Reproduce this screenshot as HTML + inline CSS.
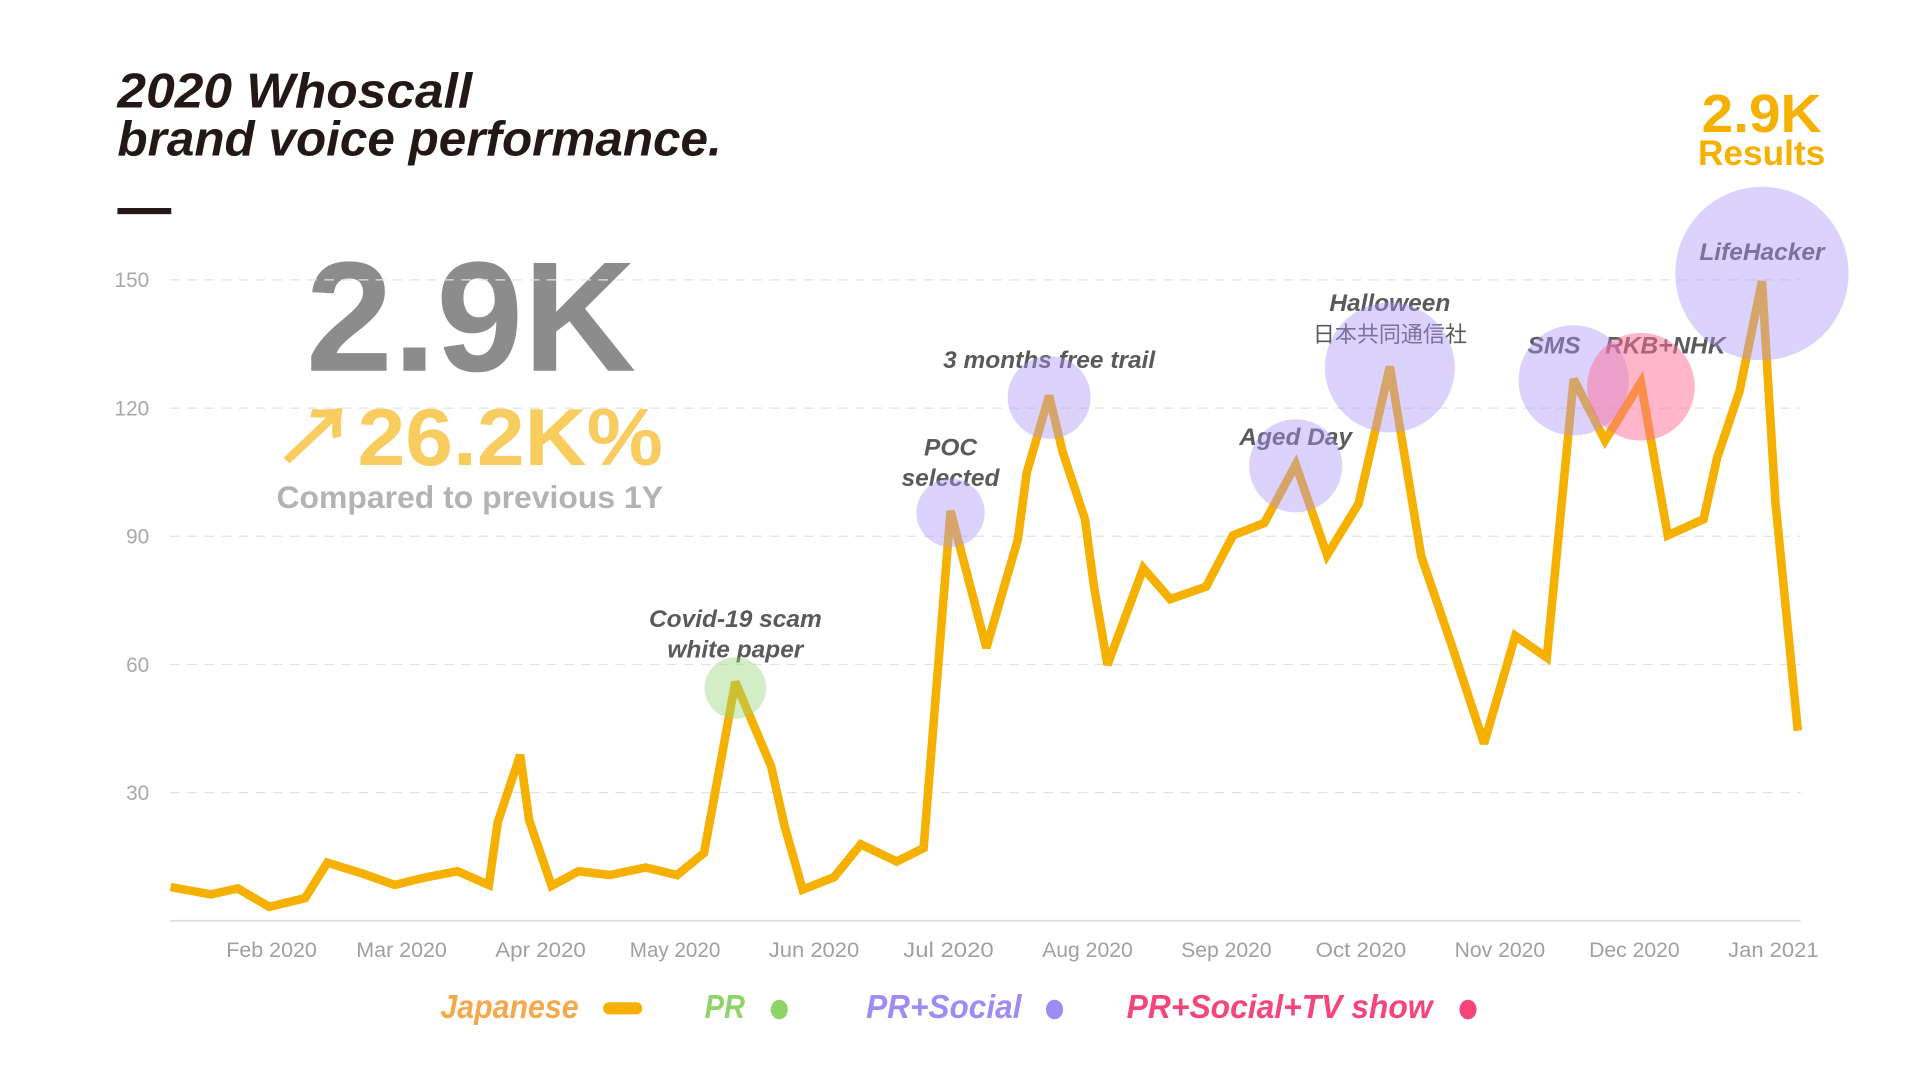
<!DOCTYPE html>
<html><head><meta charset="utf-8"><style>
html,body{margin:0;padding:0;background:#fff;}
svg{display:block;font-family:"Liberation Sans","Noto Sans CJK JP",sans-serif;}
</style></head><body>
<svg id="chart" width="1921" height="1081" viewBox="0 0 1570.3 883.4" preserveAspectRatio="none" xmlns="http://www.w3.org/2000/svg">
<g font-weight="bold" font-style="italic" fill="#231815" font-size="40">
<text x="96" y="88" textLength="290" lengthAdjust="spacingAndGlyphs">2020 Whoscall</text>
<text x="96" y="127" textLength="494" lengthAdjust="spacingAndGlyphs">brand voice performance.</text>
</g>
<rect x="96" y="170" width="44" height="5" fill="#231815"/>
<text x="250" y="303" font-size="128" font-weight="bold" fill="#8c8c8c" textLength="270" lengthAdjust="spacingAndGlyphs">2.9K</text>
<text x="222" y="380" font-size="66" font-weight="bold" fill="#f8cc5e" textLength="320" lengthAdjust="spacingAndGlyphs">↗26.2K%</text>
<text x="226" y="415" font-size="26" font-weight="bold" fill="#b3b3b3" textLength="316" lengthAdjust="spacingAndGlyphs">Compared to previous 1Y</text>
<text x="1440" y="108" text-anchor="middle" font-size="44" font-weight="bold" fill="#f5b000" textLength="98" lengthAdjust="spacingAndGlyphs">2.9K</text>
<text x="1440" y="135" text-anchor="middle" font-size="29" font-weight="bold" fill="#f5b000" textLength="104" lengthAdjust="spacingAndGlyphs">Results</text>
<g id="grid"></g><g id="axes"></g><g id="line"></g><g id="notes"></g><g id="bubbles"></g>
<g font-weight="bold" font-style="italic" font-size="27">
<text x="360" y="832" fill="#f5a94a" textLength="113" lengthAdjust="spacingAndGlyphs">Japanese</text>
<rect x="493" y="819" width="32" height="10" rx="5" fill="#f5b000"/>
<text x="576" y="832" fill="#8fd468" textLength="33" lengthAdjust="spacingAndGlyphs">PR</text>
<ellipse cx="637" cy="825" rx="7" ry="8" fill="#8fd468"/>
<text x="708" y="832" fill="#9e8cf5" textLength="127" lengthAdjust="spacingAndGlyphs">PR+Social</text>
<ellipse cx="862" cy="825" rx="7" ry="8" fill="#9e8cf5"/>
<text x="921" y="832" fill="#f5457a" textLength="250" lengthAdjust="spacingAndGlyphs">PR+Social+TV show</text>
<ellipse cx="1200" cy="825" rx="7" ry="8" fill="#f5457a"/>
</g>
</svg>
<script>
const days = [9,18,24,31,39,44,52,59,66,73,80,82,87,89,94,100,107,115,122,128,135,143,146,150,157,163,171,177,183,191,198,200,205,208,213,215,218,226,232,240,246,253,260,267,274,281,288,295,302,309,316,322,329,337,343,351,354,359,364,367,372];
const values = [7.9,6.2,7.6,3.3,5.3,13.6,11.0,8.4,10.2,11.6,8.4,23.1,38.8,23.6,8.2,11.6,10.7,12.5,10.7,15.9,55.9,36.1,22.1,7.3,10.2,17.9,13.9,17.0,95.9,63.9,89.2,104.9,122.9,109.8,94.0,78.2,59.9,82.5,75.3,78.2,90.2,93.1,106.8,85.6,97.6,129.7,85.3,63.9,41.5,66.7,61.6,126.8,112.4,126.0,90.2,94.0,108.3,124.0,149.7,98.0,44.5];
const yTicks = [30,60,90,120,150];
const monthLabels = ["Feb 2020","Mar 2020","Apr 2020","May 2020","Jun 2020","Jul 2020","Aug 2020","Sep 2020","Oct 2020","Nov 2020","Dec 2020","Jan 2021"];
const monthDays = [31,60,91,121,152,182,213,244,274,305,335,366];
const noteDays = [135,183,205,260,281,322,337,364];
const noteVals = [54.5,95.5,122.5,106.5,129.5,126.5,125,151.5];
const noteR = [7.2,8,9.7,10.9,15.2,12.9,12.6,20.3];
const noteTypes = ["pr","social","social","social","social","social","tv","social"];
const noteLabels = [["Covid-19 scam","white paper"],["POC","selected"],["3 months free trail"],["Aged Day"],["Halloween","日本共同通信社"],["SMS"],["RKB+NHK"],["LifeHacker"]];

const NS="http://www.w3.org/2000/svg";
const x = d => 106.4 + d*3.6645;
const y = v => 752.5 - v*3.4917;
const k = 3.4917;
const labelDy = [-25,-22,-24,-17,-21,-22,-27,-11];
const labelDx = [0,0,0,0,0,-16,20,0];
function mk(tag, attrs, parent){const e=document.createElementNS(NS,tag);for(const a in attrs)e.setAttribute(a,attrs[a]);parent.appendChild(e);return e;}
const grid=document.getElementById('grid'), axes=document.getElementById('axes');
yTicks.forEach(t=>{
  const l=mk('line',{x1:139,x2:1472,y1:y(t),y2:y(t),stroke:'#e3e3e3','stroke-width':1,'stroke-dasharray':'8 6'},grid);
  
  
  const tx=mk('text',{x:122,y:y(t)+6,'text-anchor':'end','font-size':17,fill:'#a8a8a8'},axes);
  tx.textContent=t;
  
  
});
const base=mk('line',{x1:139,x2:1472,y1:y(0),y2:y(0),stroke:'#e0e0e0','stroke-width':1.5},axes);


monthLabels.forEach((m,i)=>{
  const tx=mk('text',{x:x(monthDays[i])+2,y:782,'text-anchor':'middle','font-size':17,fill:'#a0a0a0',textLength:74,lengthAdjust:'spacingAndGlyphs'},axes);
  tx.textContent=m;
  
  
});
const pts=days.map((d,i)=>x(d).toFixed(1)+','+y(values[i]).toFixed(1)).join(' ');
const pl=mk('polyline',{points:pts,fill:'none',stroke:'#f5b000','stroke-width':7,'stroke-linejoin':'miter','stroke-miterlimit':3},document.getElementById('line'));


const fills={pr:'rgba(150,215,120,0.42)',social:'rgba(170,150,250,0.42)',tv:'rgba(255,110,150,0.5)'};
const notes=document.getElementById('notes'), bub=document.getElementById('bubbles');
noteDays.forEach((d,i)=>{
  const cx=x(d), cy=y(noteVals[i]), r=noteR[i]*k;
  const c=mk('circle',{cx:cx,cy:cy,r:r,fill:fills[noteTypes[i]]},bub);
  
  
  const lines=noteLabels[i];
  const last=cy+labelDy[i];
  lines.forEach((s,j)=>{
    const cjk=/[\u3000-\u9fff]/.test(s);
    const t=mk('text',{x:cx+labelDx[i],y:last-(lines.length-1-j)*25,'text-anchor':'middle','font-size':cjk?18:20,'font-weight':cjk?'normal':'bold','font-style':cjk?'normal':'italic',fill:'#5a5a5a'},notes);
    t.textContent=s;
    
    
  });
});
</script>
</body></html>
